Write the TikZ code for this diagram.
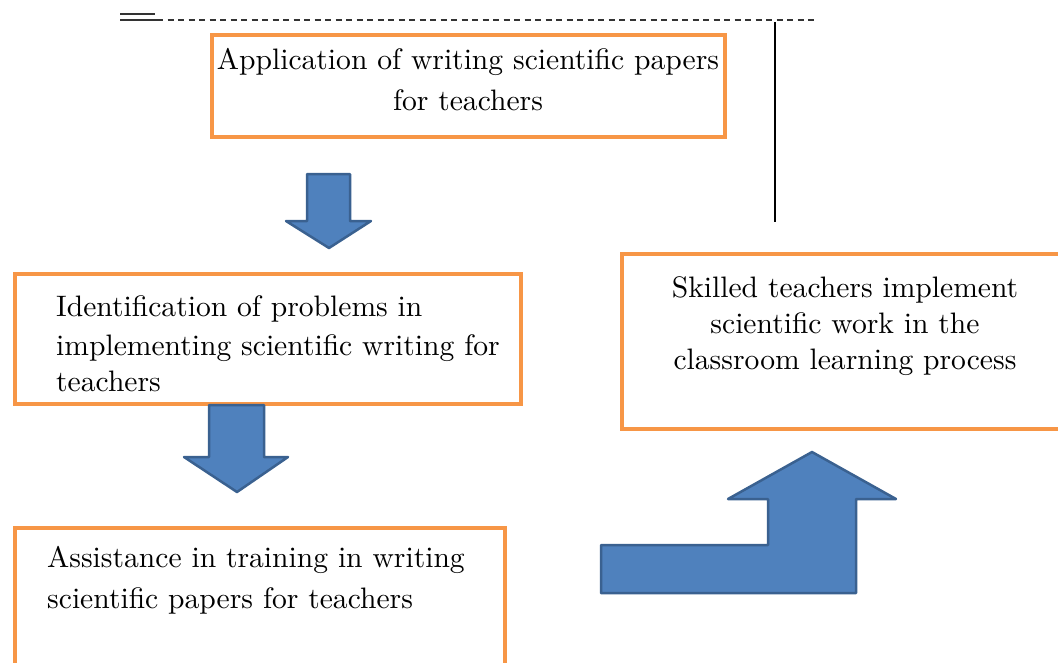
\documentclass[tikz,border=0pt]{standalone}
\usepackage{fontspec}
\setmainfont{lmroman10-regular.otf}
\definecolor{boxorange}{HTML}{F79646}
\definecolor{arrowfill}{HTML}{4F81BD}
\definecolor{arrowedge}{HTML}{3A6190}
\definecolor{ruleink}{HTML}{333333}

\begin{document}
\begin{tikzpicture}[x=1pt,y=-1pt,
  stagebox/.style={draw=boxorange, line width=4pt, rectangle, inner sep=0pt, anchor=north west},
  blockarrow/.style={fill=arrowfill, draw=arrowedge, line width=2.5pt, line join=round},
  boxtext/.style={font=\fontsize{29.6}{37}\selectfont, inner sep=0pt, text=black}]
\useasboundingbox (0,0) rectangle (1058,662);
\clip (0,0) rectangle (1058,662);

% rule across the top and the vertical line on the right
\coordinate (ruleL) at (120,20);
\coordinate (ruleS) at (157,20);
\coordinate (ruleR) at (817,20);
\coordinate (dblL) at (120,14);
\coordinate (dblR) at (155,14);
\coordinate (vtop) at (775,22);
\coordinate (vbot) at (775,222);
\draw[ruleink, line width=2pt] (dblL) -- (dblR);
\draw[ruleink, line width=2pt] (ruleL) -- (ruleS);
\draw[ruleink, line width=1.8pt, dash pattern=on 6pt off 4.5pt] (ruleS) -- (ruleR);
\draw[black, line width=1.6pt] (vtop) -- (vbot);

% stage boxes
\node[stagebox, minimum width=513pt, minimum height=102pt] (apply) at (210,33) {};
\node[stagebox, minimum width=506pt, minimum height=130pt] (ident) at (13,272) {};
\node[stagebox, minimum width=490pt, minimum height=170pt] (assist) at (13,526) {};
\node[stagebox, minimum width=480pt, minimum height=175pt] (skill) at (620,252) {};

% box texts
\node[boxtext, align=center, anchor=north] (applyT) at (468,48)
  {Application of writing scientific papers\\[4pt]for teachers};
\node[boxtext, align=left, anchor=north west] (identT) at (56,295)
  {Identification of problems in\\[2pt]implementing scientific writing for\\[-1pt]teachers};
\node[boxtext, align=left, anchor=north west] (assistT) at (47,546)
  {Assistance in training in writing\\[4pt]scientific papers for teachers};
\node[boxtext, align=center, anchor=north] (skillT) at (845,276)
  {Skilled teachers implement\\[-1pt]scientific work in the\\[-1pt]classroom learning process};

% block arrows between the stages
\draw[blockarrow] (307,174) -- (350,174) -- (350,221) -- (371,221) -- (329,248)
  -- (286,221) -- (307,221) -- cycle;
\draw[blockarrow] (209,405) -- (264,405) -- (264,457) -- (288,457) -- (237,492)
  -- (184,457) -- (209,457) -- cycle;
\draw[blockarrow] (601,545) -- (768,545) -- (768,499) -- (728,499) -- (812,452)
  -- (896,499) -- (856,499) -- (856,593) -- (601,593) -- cycle;
\end{tikzpicture}
\end{document}
